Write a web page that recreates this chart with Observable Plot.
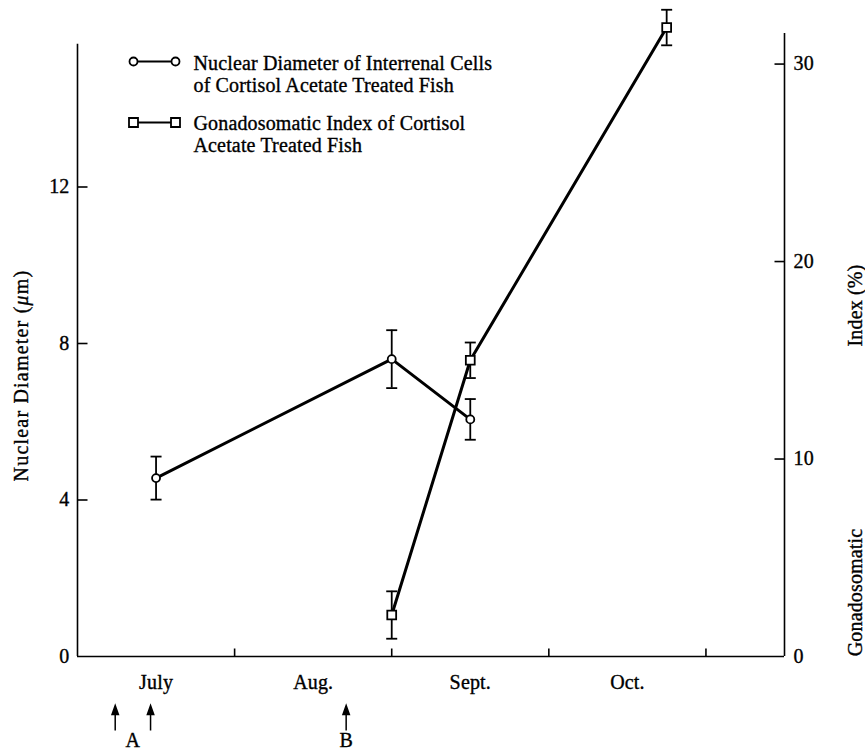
<!DOCTYPE html>
<html><head><meta charset="utf-8">
<script src="https://cdn.jsdelivr.net/npm/d3@7"></script>
<script src="https://cdn.jsdelivr.net/npm/@observablehq/plot@0.6"></script>
<style>body{margin:0;background:#fff} svg text{stroke:#000;stroke-width:0.35px;paint-order:stroke}</style>
</head><body><div id="chart"></div>
<script>
// ---- data ----
const months = ["July", "Aug.", "Sept.", "Oct."];
const monthCenters = [0.5, 1.5, 2.5, 3.5];   // month midpoints (months since July 1)
const monthBounds = [1, 2, 3, 4];            // month boundaries (tick marks)
const nucTicks = [0, 4, 8, 12];
const gsiTicks = [0, 10, 20, 30];
const nucX = [0.5, 2.0, 2.5];
const nucMean = [4.56, 7.6, 6.06];
const nucErr = [0.55, 0.74, 0.52];
const gsiX = [2.0, 2.5, 3.75];
const gsiMean = [2.1, 15.0, 31.85];
const gsiErr = [1.2, 0.9, 0.9];
const injA = [0.24, 0.465];
const injB = [1.71];
const legendLabels = [
  "Nuclear Diameter of Interrenal Cells\nof Cortisol Acetate Treated Fish",
  "Gonadosomatic Index of Cortisol\nAcetate Treated Fish"
];
const yLabelLeft = "Nuclear Diameter (μm)";
const yLabelRight = ["Gonadosomatic", "Index (%)"];

// scale extents
const xMax = 4.5;
const nucMax = 16;
const gsiMax = 31.7;
const nucAxisTop = 15.65;
const gsiAxisTop = 31.55;

const k = nucMax / gsiMax;
const nuc = nucX.map((x, i) => ({x, y: nucMean[i], lo: nucMean[i] - nucErr[i], hi: nucMean[i] + nucErr[i]}));
const gsi = gsiX.map((x, i) => ({x, y: gsiMean[i] * k, lo: (gsiMean[i] - gsiErr[i]) * k, hi: (gsiMean[i] + gsiErr[i]) * k}));

// custom glyphs
const sym = fn => ({draw: fn});
const tickUp = sym(c => { c.moveTo(0, 0); c.lineTo(0, -8); });
const tickIn = dir => sym(c => { c.moveTo(0, 0); c.lineTo(dir * 10, 0); });
const cap = sym(c => { c.moveTo(-5.5, 0); c.lineTo(5.5, 0); });
const arrowUp = sym(c => { c.moveTo(0, 74); c.lineTo(0, 56); c.moveTo(-3.2, 58); c.lineTo(0, 49); c.lineTo(3.2, 58); c.closePath(); });
const legCircle = sym(c => {
  c.moveTo(4, 0); c.lineTo(38, 0);
  c.moveTo(4, 0); c.arc(0, 0, 4, 0, 2 * Math.PI);
  c.moveTo(46, 0); c.arc(42, 0, 4, 0, 2 * Math.PI);
});
const legSquare = sym(c => {
  c.moveTo(4.5, 0); c.lineTo(37.5, 0);
  c.rect(-4.5, -4.5, 9, 9);
  c.rect(37.5, -4.5, 9, 9);
});

const font = "'Liberation Serif', 'Times New Roman', serif";
const fs = 20;

const chart = Plot.plot({
  width: 865, height: 753,
  marginLeft: 77, marginRight: 81, marginTop: 30, marginBottom: 97,
  style: {fontFamily: font, fontSize: fs + "px", color: "#000", background: "#fff", letterSpacing: "0.15px"},
  x: {domain: [0, xMax]},
  y: {domain: [0, nucMax]},
  marks: [
    // frame
    Plot.ruleY([0], {stroke: "#000", strokeWidth: 1.6}),
    Plot.ruleX([0], {y1: 0, y2: nucAxisTop, stroke: "#000", strokeWidth: 1.6}),
    Plot.ruleX([xMax], {y1: 0, y2: gsiAxisTop * k, stroke: "#000", strokeWidth: 1.6}),
    // axes
    Plot.axisX(monthCenters, {tickSize: 0, tickPadding: 18, tickFormat: d => months[monthCenters.indexOf(d)], label: null, fontSize: fs}),
    Plot.axisY(nucTicks, {anchor: "left", tickSize: 0, tickPadding: 8, label: null, fontSize: fs}),
    Plot.axisY(gsiTicks.map(v => v * k), {anchor: "right", tickSize: 0, tickPadding: 9, label: null, fontSize: fs, tickFormat: d => String(Math.round(d / k))}),
    Plot.dot(monthBounds, {x: d => d, frameAnchor: "bottom", symbol: tickUp, stroke: "#000", strokeWidth: 1.6, fill: "none"}),
    Plot.dot(nucTicks.slice(1), {y: d => d, frameAnchor: "left", symbol: tickIn(1), stroke: "#000", strokeWidth: 1.6, fill: "none"}),
    Plot.dot(gsiTicks.slice(1).map(v => v * k), {y: d => d, frameAnchor: "right", symbol: tickIn(-1), stroke: "#000", strokeWidth: 1.6, fill: "none"}),
    // axis titles
    Plot.text([yLabelLeft], {frameAnchor: "left", textAnchor: "middle", lineAnchor: "middle", dx: -56, dy: 32, rotate: -90, fontSize: fs}),
    Plot.text([yLabelRight[0]], {frameAnchor: "right", textAnchor: "middle", lineAnchor: "middle", dx: 71, dy: 249, rotate: -90, fontSize: fs}),
    Plot.text([yLabelRight[1]], {frameAnchor: "right", textAnchor: "middle", lineAnchor: "middle", dx: 71, dy: -38, rotate: -90, fontSize: fs}),
    // treatment arrows
    Plot.dot([...injA, ...injB], {x: d => d, frameAnchor: "bottom", symbol: arrowUp, fill: "#000", stroke: "#000", strokeWidth: 1.5}),
    Plot.text([{x: d3.mean(injA), t: "A"}, {x: injB[0], t: "B"}], {x: "x", text: "t", frameAnchor: "bottom", lineAnchor: "middle", dy: 84, fontSize: fs}),
    // error bars
    Plot.ruleX(nuc, {x: "x", y1: "lo", y2: "hi", stroke: "#000", strokeWidth: 1.8}),
    Plot.dot(nuc, {x: "x", y: "lo", symbol: cap, stroke: "#000", strokeWidth: 1.8, fill: "none"}),
    Plot.dot(nuc, {x: "x", y: "hi", symbol: cap, stroke: "#000", strokeWidth: 1.8, fill: "none"}),
    Plot.ruleX(gsi, {x: "x", y1: "lo", y2: "hi", stroke: "#000", strokeWidth: 1.8}),
    Plot.dot(gsi, {x: "x", y: "lo", symbol: cap, stroke: "#000", strokeWidth: 1.8, fill: "none"}),
    Plot.dot(gsi, {x: "x", y: "hi", symbol: cap, stroke: "#000", strokeWidth: 1.8, fill: "none"}),
    // lines
    Plot.line(nuc, {x: "x", y: "y", stroke: "#000", strokeWidth: 3}),
    Plot.line(gsi, {x: "x", y: "y", stroke: "#000", strokeWidth: 3}),
    // markers
    Plot.dot(nuc, {x: "x", y: "y", r: 4, fill: "#fff", stroke: "#000", strokeWidth: 1.8}),
    Plot.dot(gsi, {x: "x", y: "y", symbol: "square", r: 5, fill: "#fff", stroke: "#000", strokeWidth: 1.8}),
    // legend
    Plot.dot([0], {frameAnchor: "top-left", dx: 56, dy: 31, symbol: legCircle, fill: "#fff", stroke: "#000", strokeWidth: 1.8}),
    Plot.dot([0], {frameAnchor: "top-left", dx: 56, dy: 92, symbol: legSquare, fill: "#fff", stroke: "#000", strokeWidth: 1.8}),
    Plot.text([legendLabels[0]], {frameAnchor: "top-left", dx: 116, dy: 43, textAnchor: "start", lineAnchor: "middle", lineHeight: 1.1, fontSize: fs}),
    Plot.text([legendLabels[1]], {frameAnchor: "top-left", dx: 116, dy: 103, textAnchor: "start", lineAnchor: "middle", lineHeight: 1.1, fontSize: fs})
  ]
});

// italic μ in the left axis title, slightly wider tracking like the original
chart.querySelectorAll("text").forEach(t => {
  if (t.textContent === yLabelLeft) {
    const ns = "http://www.w3.org/2000/svg";
    t.textContent = "";
    const parts = [["Nuclear Diameter (", null], ["μ", "italic"], ["m)", null]];
    for (const [s, st] of parts) {
      const ts = document.createElementNS(ns, "tspan");
      ts.textContent = s;
      if (st) ts.setAttribute("font-style", st);
      t.appendChild(ts);
    }
    t.style.letterSpacing = "1.2px";
  }
});
document.getElementById("chart").appendChild(chart);
</script>
</body></html>
